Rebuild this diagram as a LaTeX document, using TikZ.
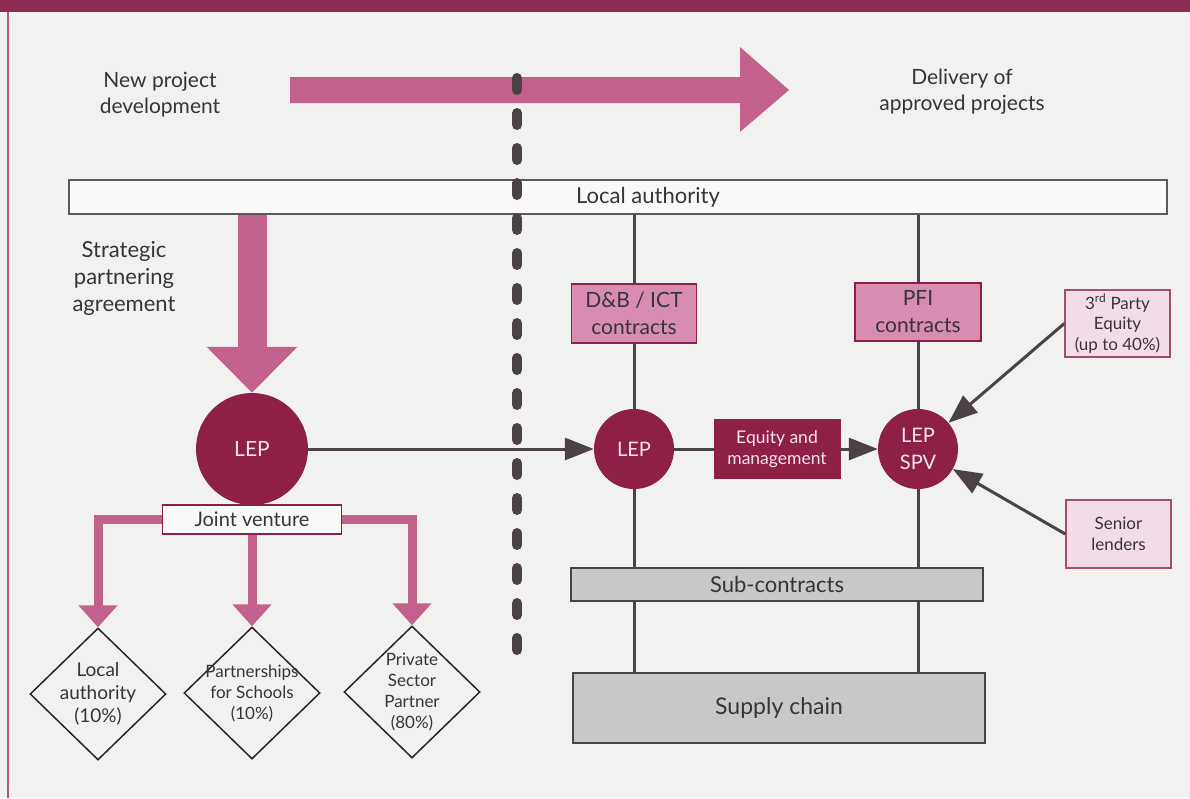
\documentclass[tikz,border=0pt]{standalone}
\usepackage{fontspec}
\setmainfont{Lato}
\usetikzlibrary{arrows.meta, shapes.geometric}

\definecolor{pagebg}{RGB}{241,242,240}
\definecolor{bandred}{RGB}{140,44,82}
\definecolor{lepred}{RGB}{142,32,72}
\definecolor{flowpink}{RGB}{194,98,140}
\definecolor{contractpink}{RGB}{216,140,178}
\definecolor{palepink}{RGB}{242,220,232}
\definecolor{boxgrey}{RGB}{200,200,200}
\definecolor{linegrey}{RGB}{74,66,68}
\definecolor{textgrey}{RGB}{55,52,54}
\definecolor{leptext}{RGB}{245,228,236}

\begin{document}
\begin{tikzpicture}[x=1pt, y=-1pt,
    caption/.style={text=textgrey, align=center, font=\fontsize{21}{26}\selectfont},
    lep/.style={circle, fill=lepred, text=leptext, inner sep=0pt, align=center, font=\fontsize{20}{27}\selectfont},
    contract/.style={draw=lepred, line width=1.5pt, fill=contractpink, text=textgrey, inner sep=0pt, align=center, font=\fontsize{21}{27}\selectfont},
    funder/.style={draw=lepred!80, line width=1.5pt, fill=palepink, text=textgrey, inner sep=0pt, align=center, font=\fontsize{17}{20.5}\selectfont},
    chain/.style={draw=linegrey, line width=1.5pt, fill=boxgrey, text=textgrey, inner sep=0pt, font=\fontsize{22}{26}\selectfont},
    share/.style={diamond, draw=black!85, line width=1.5pt, inner sep=-16pt, minimum width=136pt, minimum height=132pt, text=textgrey, align=center},
    link/.style={draw=linegrey, line width=3pt},
    flow/.style={link, -{Triangle[length=29pt, width=22pt]}},
    fork/.style={draw=flowpink, line width=9pt, -{Triangle[length=22pt, width=38pt]}},
    bigdown/.style={draw=flowpink, line width=29pt, -{Triangle[length=46pt, width=88pt]}},
    divider/.style={draw=linegrey, line width=10pt, line cap=round, dash pattern=on 12pt off 23pt}]

\fill[pagebg] (0,0) rectangle (1190,798);
\useasboundingbox (0,0) rectangle (1190,798);
\fill[bandred] (0,0) rectangle (1190,12);
\draw[flowpink!80!lepred, line width=2.5pt] (8,12) -- (8,798);

\node[caption] at (160,95)  (newdev) {New project\\development};
\node[caption, font=\fontsize{22}{27}\selectfont] at (124,278) (spa) {Strategic\\partnering\\agreement};
\node[caption] at (962,92)  (deliv)  {Delivery of\\approved projects};

\node[draw=black!65, line width=1.5pt, fill=white!55!pagebg, text=textgrey, minimum width=1098pt, minimum height=34pt, inner sep=0pt, font=\fontsize{22}{26}\selectfont] at (618,197) (la) {\hspace*{60pt}Local authority};

\node[lep, minimum size=112pt, font=\fontsize{21}{26}\selectfont] at (252,449) (lep1) {LEP};
\node[draw=lepred, line width=1.5pt, fill=white!55!pagebg, text=textgrey, minimum width=179pt, minimum height=29pt, inner sep=0pt, font=\fontsize{20}{24}\selectfont] at (252,519.5) (jv) {Joint venture};

\node[share, font=\fontsize{19}{23}\selectfont] at (98,694)  (dla)  {Local\\authority\\(10\%)};
\node[share, font=\fontsize{17}{21}\selectfont] at (252,693) (dpfs) {Partnerships\\for Schools\\(10\%)};
\node[share, font=\fontsize{17}{21}\selectfont] at (412,692) (dpsp) {Private\\Sector\\Partner\\(80\%)};

\node[contract, minimum width=125pt, minimum height=59pt] at (634,313.5) (db)  {D\&B / ICT\\contracts};
\node[contract, minimum width=126pt, minimum height=58pt] at (918,312)   (pfi) {PFI\\contracts};
\node[lep, minimum size=80pt] at (634,449) (lep2) {LEP};
\node[draw=lepred, fill=lepred, text=leptext, minimum width=126pt, minimum height=59pt, inner sep=0pt, align=center, font=\fontsize{17.5}{21}\selectfont] at (777,449) (eqm) {Equity and\\management};
\node[lep, minimum size=80pt] at (918,449) (spv) {LEP\\SPV};

\node[funder, minimum width=105pt, minimum height=67pt] at (1117.5,323.5) (tpe) {3\textsuperscript{rd} Party\\Equity\\(up to 40\%)};
\node[funder, minimum width=105pt, minimum height=68pt] at (1118.5,534)   (sl)  {Senior\\lenders};

\node[chain, minimum width=412pt, minimum height=33pt] at (777,584.5) (sub) {Sub-contracts};
\node[chain, minimum width=412pt, minimum height=70pt, font=\fontsize{23}{27}\selectfont] at (779,708) (sc) {Supply chain};

\fill[flowpink] (290,77) -- (740,77) -- (740,47) -- (789,90) -- (740,132) -- (740,103) -- (290,103) -- cycle;
\draw[bigdown] (la.south -| lep1) -- (lep1.north);

\draw[fork] (jv.west) -| (dla.north);
\draw[fork] (jv.south) -- (dpfs.north);
\draw[fork] (jv.east) -| (dpsp.north);

\path[link]
    (la.south -| db) -- (db.north)
    (db.south) -- (lep2.north)
    (lep2.south) -- (sub.north -| lep2)
    (sub.south -| lep2) -- (sc.north -| lep2)
    (la.south -| spv) -- (pfi.north)
    (pfi.south) -- (spv.north)
    (spv.south) -- (sub.north -| spv)
    (sub.south -| spv) -- (sc.north -| spv)
    (lep2.east) -- (eqm.west);

\draw[flow] (lep1.east) -- (lep2.west);
\draw[flow] (eqm.east) -- (spv.west);
\draw[flow] (tpe.west) -- (spv);
\draw[flow] (sl.west) -- (spv);

\coordinate (divtop) at (517,78);
\coordinate (divbot) at (517,650);
\draw[divider] (divtop) -- (divbot);

\end{tikzpicture}
\end{document}
